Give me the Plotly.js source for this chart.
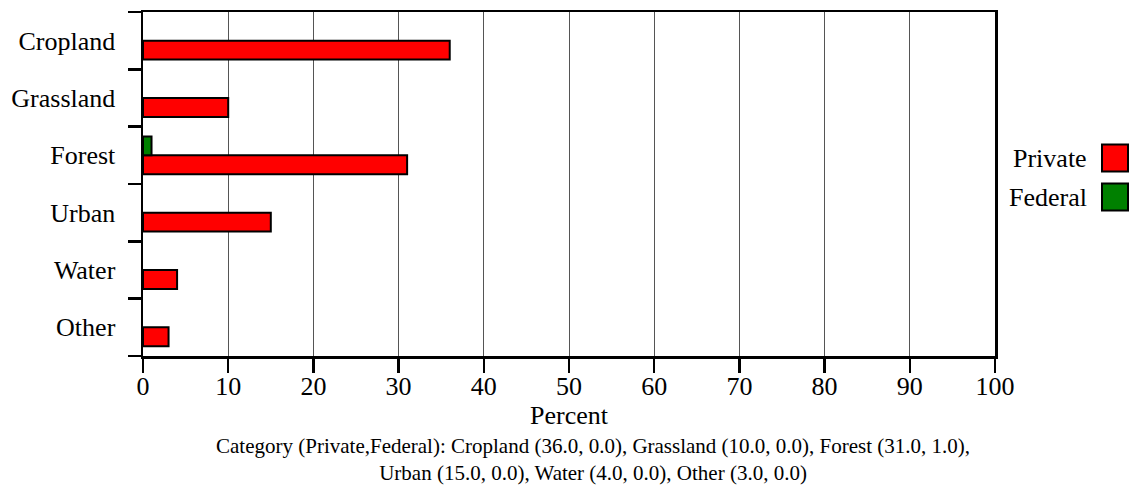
<!DOCTYPE html>
<html>
<head>
<meta charset="utf-8">
<script src="https://cdn.plot.ly/plotly-3.0.1.min.js"></script>
<style>html,body{margin:0;padding:0;background:#fff;}#chart{width:1130px;height:489px;}</style>
</head>
<body>
<div id="chart"></div>
<script>
const categories = ["Cropland", "Grassland", "Forest", "Urban", "Water", "Other"];
const privateValues = [36, 10, 31, 15, 4, 3];
const federalValues = [0, 0, 1, 0, 0, 0];
const seriesNames = ["Private", "Federal"];
const seriesColors = ["#ff0000", "#008000"];
const xTicks = [0, 10, 20, 30, 40, 50, 60, 70, 80, 90, 100];
const captionLines = [
  "Category (Private,Federal): Cropland (36.0, 0.0), Grassland (10.0, 0.0), Forest (31.0, 1.0),",
  "Urban (15.0, 0.0), Water (4.0, 0.0), Other (3.0, 0.0)"
];

const W = 1130, H = 489;
const M = {l: 143, r: 135, t: 12, b: 133};
const PW = W - M.l - M.r, PH = H - M.t - M.b;
const px = x => (x - M.l) / PW;
const py = y => (H - M.b - y) / PH;
const FONT = "Liberation Serif";

const outline = vals => vals.map(v => (v > 0 ? 2 : 0));

const traces = [
  {type: "bar", orientation: "h", name: seriesNames[0], y: categories, x: privateValues,
   marker: {color: seriesColors[0], line: {color: "#000", width: outline(privateValues)}}, showlegend: false},
  {type: "bar", orientation: "h", name: seriesNames[1], y: categories, x: federalValues,
   marker: {color: seriesColors[1], line: {color: "#000", width: outline(federalValues)}}, showlegend: false}
];

const shapes = [];
const annotations = [];
const legendY = [158, 197];
seriesNames.forEach((n, i) => {
  const cy = legendY[i];
  shapes.push({type: "rect", xref: "paper", yref: "paper",
    x0: px(1102), x1: px(1128), y0: py(cy - 13.5), y1: py(cy + 13.5),
    fillcolor: seriesColors[i], line: {color: "#000", width: 2}});
  annotations.push({xref: "paper", yref: "paper", x: px(1089), y: py(cy),
    xanchor: "right", yanchor: "middle", showarrow: false, text: n,
    font: {family: FONT, size: 26, color: "#000"}});
});
annotations.push({xref: "paper", yref: "paper", x: px(593), y: py(459.5),
  xanchor: "center", yanchor: "middle", showarrow: false, align: "center",
  text: captionLines.join("<br>"), font: {family: FONT, size: 21, color: "#000"}});

const layout = {
  width: W, height: H,
  margin: M,
  paper_bgcolor: "#fff", plot_bgcolor: "#fff",
  barmode: "group", bargap: 0.34, bargroupgap: 0,
  font: {family: FONT, size: 26, color: "#000"},
  showlegend: false,
  xaxis: {
    range: [0, 100], tickvals: xTicks, ticktext: xTicks.map(String),
    showgrid: true, gridcolor: "#555", gridwidth: 1, zeroline: false,
    showline: true, linecolor: "#000", linewidth: 2.5, mirror: true,
    ticks: "outside", ticklen: 14, tickwidth: 2.5, tickcolor: "#000",
    ticklabelstandoff: -9,
    tickfont: {family: FONT, size: 26, color: "#000"},
    title: {text: "Percent", font: {family: FONT, size: 26, color: "#000"}, standoff: 0},
    fixedrange: true
  },
  yaxis: {
    type: "category", categoryorder: "array", categoryarray: categories.slice().reverse(),
    range: [-0.5, categories.length - 0.5],
    tickson: "boundaries", ticks: "outside", ticklen: 13, tickwidth: 2.5, tickcolor: "#000",
    ticklabelstandoff: 20,
    showgrid: false, zeroline: false,
    showline: true, linecolor: "#000", linewidth: 2.5, mirror: true,
    tickfont: {family: FONT, size: 26, color: "#000"},
    fixedrange: true
  },
  shapes: shapes,
  annotations: annotations
};

Plotly.newPlot("chart", traces, layout, {displayModeBar: false, staticPlot: true});
</script>
</body>
</html>
